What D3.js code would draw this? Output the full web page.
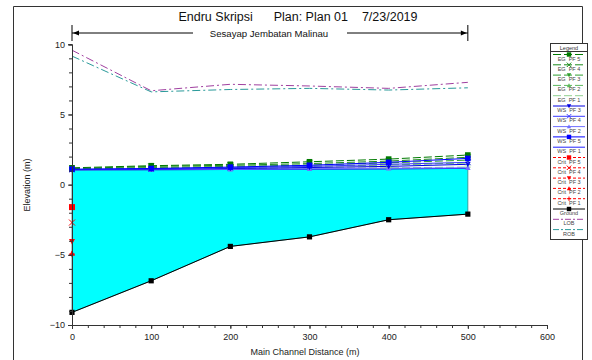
<!DOCTYPE html>
<html><head><meta charset="utf-8">
<script src="https://cdn.jsdelivr.net/npm/d3@7"></script>
<style>body{margin:0;background:#fff}svg{display:block;font-family:"Liberation Sans",Arial,sans-serif}</style>
</head><body><svg id="c" width="592" height="360"></svg>
<script>
const stations = [0, 100, 200, 300, 400, 500];
const ground = [-9.1, -6.85, -4.4, -3.72, -2.5, -2.1];
const lob = [9.58, 6.69, 7.15, 7.03, 6.86, 7.29];
const rob = [9.16, 6.61, 6.78, 6.86, 6.74, 6.9];
const egPF5 = [1.2, 1.35, 1.45, 1.63, 1.82, 2.11];
const egPF4 = [1.15, 1.3, 1.38, 1.5, 1.68, 1.95];
const egPF3 = [1.12, 1.22, 1.3, 1.4, 1.55, 1.75];
const egPF2 = [1.1, 1.17, 1.22, 1.3, 1.4, 1.55];
const egPF1 = [1.07, 1.1, 1.13, 1.17, 1.2, 1.25];
const wsPF5 = [1.1, 1.15, 1.25, 1.38, 1.59, 1.87];
const wsPF4 = [1.08, 1.12, 1.2, 1.3, 1.45, 1.59];
const wsPF3 = [1.07, 1.1, 1.15, 1.22, 1.3, 1.45];
const wsPF2 = [1.06, 1.08, 1.1, 1.14, 1.17, 1.2];
const wsPF1 = [1.05, 1.06, 1.08, 1.1, 1.12, 1.16];
const critStation = [0];
const critPF5 = [-1.6];
const critPF4 = [-2.7];
const critPF3 = [-4.05];
const critPF2 = [-4.9];
const critPF1 = [-4.95];
const xTicks = [0, 100, 200, 300, 400, 500, 600];
const yTicks = [-10, -5, 0, 5, 10];
const legendLabels = ["EG  PF 5","EG  PF 4","EG  PF 3","EG  PF 2","EG  PF 1","WS  PF 3","WS  PF 4","WS  PF 2","WS  PF 5","WS  PF 1","Crit  PF 5","Crit  PF 4","Crit  PF 3","Crit  PF 2","Crit  PF 1","Ground","LOB","ROB"];

const svg = d3.select("#c");
const x = d3.scaleLinear().domain([0, 600]).range([72, 547]);
const y = d3.scaleLinear().domain([-10, 10]).range([325, 44.3]);

// frame
svg.append("path").attr("d","M13.5,360 V6.5 H582.5 V360").attr("fill","none").attr("stroke","#333").attr("stroke-width",1);

// water fill
const area = d3.area().x((d,i)=>x(stations[i])).y0((d,i)=>y(ground[i])).y1(d=>y(d));
svg.append("path").datum(wsPF1).attr("d",area).attr("fill","#00ffff").attr("stroke","#2a8a8a").attr("stroke-width",0.8);

const line = d3.line().x((d,i)=>x(stations[i])).y(d=>y(d));

function marker(g, type, cx, cy, color, s) {
  s = s || 3;
  if (type === "sq") g.append("rect").attr("x",cx-s).attr("y",cy-s).attr("width",2*s).attr("height",2*s).attr("fill",color);
  else if (type === "dt") g.append("path").attr("d",`M${cx-s},${cy-s*0.8}L${cx+s},${cy-s*0.8}L${cx},${cy+s}Z`).attr("fill",color);
  else if (type === "ut") g.append("path").attr("d",`M${cx-s},${cy+s*0.8}L${cx+s},${cy+s*0.8}L${cx},${cy-s}Z`).attr("fill",color);
  else if (type === "x") g.append("path").attr("d",`M${cx-s},${cy-s}L${cx+s},${cy+s}M${cx+s},${cy-s}L${cx-s},${cy+s}`).attr("stroke",color).attr("stroke-width",1);
  else if (type === "+") g.append("path").attr("d",`M${cx-s},${cy}L${cx+s},${cy}M${cx},${cy-s}L${cx},${cy+s}`).attr("stroke",color).attr("stroke-width",1);
}

const series = [
  {data: egPF1, color:"#8fd08f", dash:"8,3", m:"+"},
  {data: egPF2, color:"#5cb85c", dash:"8,3", m:"ut"},
  {data: egPF3, color:"#2e9e2e", dash:"8,3", m:"dt"},
  {data: egPF4, color:"#1a8a1a", dash:"8,3", m:"x"},
  {data: egPF5, color:"#007a00", dash:"8,3", m:"sq"},
  {data: wsPF1, color:"#2020ff", dash:null, m:null},
  {data: wsPF2, color:"#7070ff", dash:null, m:"ut"},
  {data: wsPF3, color:"#0000e0", dash:null, m:"dt"},
  {data: wsPF4, color:"#3a3aff", dash:null, m:"x"},
  {data: wsPF5, color:"#0000ff", dash:null, m:"sq"}
];
series.forEach(s => {
  const p = svg.append("path").datum(s.data).attr("d",line).attr("fill","none").attr("stroke",s.color).attr("stroke-width",1);
  if (s.dash) p.attr("stroke-dasharray",s.dash);
});
series.forEach(s => { if (s.m) s.data.forEach((v,i)=>marker(svg,s.m,x(stations[i]),y(v),s.color,2.8)); });

// LOB / ROB
svg.append("path").datum(lob).attr("d",line).attr("fill","none").attr("stroke","#a040a0").attr("stroke-width",1).attr("stroke-dasharray","8,3,2,3");
svg.append("path").datum(rob).attr("d",line).attr("fill","none").attr("stroke","#2a9a9a").attr("stroke-width",1).attr("stroke-dasharray","8,3,2,3");

// ground
svg.append("path").datum(ground).attr("d",line).attr("fill","none").attr("stroke","#000").attr("stroke-width",1);
ground.forEach((v,i)=>marker(svg,"sq",x(stations[i]),y(v),"#000",2.6));

// crit
[[critPF5,"sq"],[critPF4,"x"],[critPF3,"dt"],[critPF2,"ut"],[critPF1,"+"]].forEach(([d,m])=>{
  d.forEach((v,i)=>marker(svg,m,x(critStation[i]),y(v),"#ff0000",3));
});

// axes
const ax = svg.append("g").attr("transform","translate(0,325)")
  .call(d3.axisBottom(x).tickValues(xTicks).tickSize(4).tickFormat(d3.format("d")));
svg.append("g").attr("transform","translate(0,325)")
  .call(d3.axisBottom(x).tickValues(d3.range(0,601,20)).tickSize(3).tickFormat(""));
const ay = svg.append("g").attr("transform","translate(72,0)")
  .call(d3.axisLeft(y).tickValues(yTicks).tickSize(4).tickFormat(d3.format("d")));
svg.append("g").attr("transform","translate(72,0)")
  .call(d3.axisLeft(y).tickValues(d3.range(-10,11,1)).tickSize(3).tickFormat(""));
svg.selectAll(".domain").attr("stroke","#333");
svg.selectAll(".tick line").attr("stroke","#333");
svg.selectAll(".tick text").attr("font-size",9).attr("fill","#222").attr("font-family","Liberation Sans, Arial, sans-serif");
ax.selectAll(".tick text").attr("dy","0.9em");

// axis titles
svg.append("text").attr("x",305).attr("y",355).attr("text-anchor","middle").attr("font-size",9).attr("fill","#222").text("Main Channel Distance (m)");
svg.append("text").attr("transform","translate(30,185) rotate(-90)").attr("text-anchor","middle").attr("font-size",9).attr("fill","#222").text("Elevation (m)");

// title
svg.append("text").attr("x",298).attr("y",21).attr("text-anchor","middle").attr("font-size",12.5).attr("fill","#111").attr("xml:space","preserve").text("Endru Skripsi      Plan: Plan 01    7/23/2019");

// reach annotation
const ry = 33;
svg.append("path").attr("d",`M${x(0)},${ry}H193M347,${ry}H${x(500)}M${x(0)},${ry-8}V${ry+8}M${x(500)},${ry-8}V${ry+8}`).attr("stroke","#000").attr("stroke-width",1).attr("fill","none");
svg.append("path").attr("d",`M${x(0)+1},${ry}l6,-2.5v5z M${x(500)-1},${ry}l-6,-2.5v5z`).attr("fill","#000");
svg.append("text").attr("x",269).attr("y",ry+3.5).attr("text-anchor","middle").attr("font-size",9.6).attr("fill","#111").text("Sesayap Jembatan Malinau");

// legend
const lg = svg.append("g");
lg.append("rect").attr("x",550.5).attr("y",43.5).attr("width",37).attr("height",196).attr("fill","#fff").attr("stroke","#333");
lg.append("text").attr("x",569).attr("y",49.5).attr("text-anchor","middle").attr("font-size",5.5).attr("fill","#333").text("Legend");
lg.append("line").attr("x1",551).attr("x2",587).attr("y1",51.5).attr("y2",51.5).attr("stroke","#333");
const legStyle = [
  ["#007a00","8,3","sq"],["#1a8a1a","8,3","x"],["#2e9e2e","8,3","dt"],["#5cb85c","8,3","ut"],["#8fd08f","8,3",null],
  ["#0000e0",null,"dt"],["#3a3aff",null,"x"],["#7070ff",null,"ut"],["#0000ff",null,"sq"],["#2020ff",null,null],
  ["#ff0000","3,2","sq"],["#ff0000","3,2","x"],["#ff0000","3,2","dt"],["#ff0000","3,2","ut"],["#ff0000","3,2","+"],
  ["#000",null,"sq"],["#a040a0","6,2,2,2",null],["#2a9a9a","6,2,2,2",null]
];
legendLabels.forEach((t,i)=>{
  const ly = 54.5 + i*10.3;
  const st = legStyle[i];
  const l = lg.append("line").attr("x1",553).attr("x2",585).attr("y1",ly).attr("y2",ly).attr("stroke",st[0]).attr("stroke-width",1);
  if (st[1]) l.attr("stroke-dasharray",st[1]);
  if (st[2]) marker(lg,st[2],569,ly,st[0],2.2);
  lg.append("text").attr("x",569).attr("y",ly+6).attr("text-anchor","middle").attr("font-size",5.5).attr("fill","#444").attr("xml:space","preserve").text(t);
});
</script></body></html>
